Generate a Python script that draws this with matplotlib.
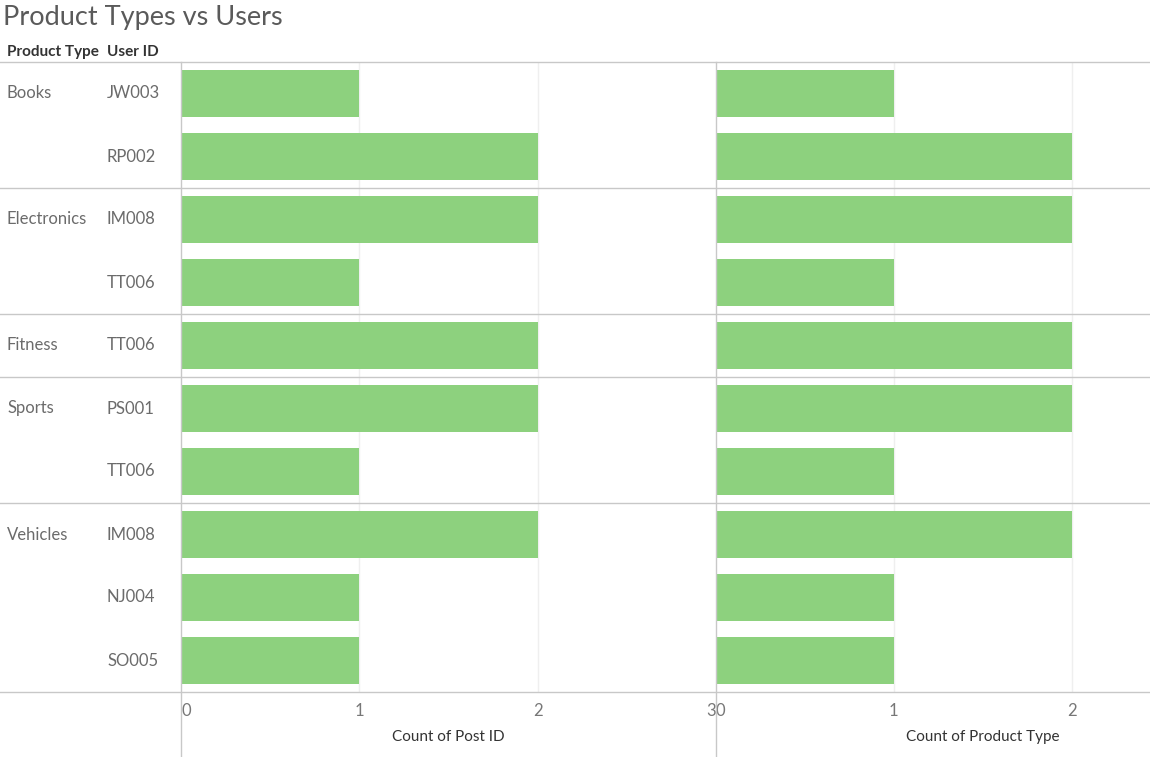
import matplotlib
matplotlib.use('Agg')
import matplotlib.pyplot as plt
import matplotlib.transforms as mtrans

# data
product_types = ['Books', 'Electronics', 'Fitness', 'Sports', 'Vehicles']
user_ids = [['JW003', 'RP002'], ['IM008', 'TT006'], ['TT006'],
            ['PS001', 'TT006'], ['IM008', 'NJ004', 'SO005']]
count_post_id = [1, 2, 2, 1, 2, 2, 1, 2, 1, 1]
count_product_type = [1, 2, 2, 1, 2, 2, 1, 2, 1, 1]
post_ticks = [0, 1, 2, 3]
type_ticks = [0, 1, 2]

plt.rcParams['font.family'] = ['Lato', 'DejaVu Sans']

W, H = 1150, 757
fig = plt.figure(figsize=(W / 100, H / 100), dpi=100)

def px_axes(x0, y0, x1, y1):
    return fig.add_axes([x0 / W, 1 - y1 / H, (x1 - x0) / W, (y1 - y0) / H])

top, bottom = 62, 692
n_rows = len(count_post_id)
bar_col = '#8DD17E'
txt_col = '#6b6b6b'
line_col = '#c8c8c8'

ax1 = px_axes(181, top, 716, bottom)
ax2 = px_axes(716, top, 1150, bottom)
lab = px_axes(0, top, 181, bottom)

lab.set_xlim(0, 181)
lab.set_ylim(n_rows, 0)
lab.axis('off')

# row labels
row = 0
bounds = [0]
for g, users in zip(product_types, user_ids):
    lab.text(7, row + 0.5, g, ha='left', va='center', fontsize=12, color=txt_col)
    for u in users:
        lab.text(107, row + 0.5, u, ha='left', va='center', fontsize=12, color=txt_col)
        row += 1
    bounds.append(row)

# separators across whole width
tr = mtrans.blended_transform_factory(fig.transFigure, lab.transData)
for b in bounds:
    lab.plot([0, 1], [b, b], transform=tr, color=line_col, lw=1, clip_on=False)

ypos = list(range(n_rows))
for ax, vals, ticks, xmax in [(ax1, count_post_id, post_ticks, 3.0),
                               (ax2, count_product_type, type_ticks, 2.44)]:
    ax.set_facecolor('none')
    ax.barh([y + 0.5 for y in ypos], vals, height=0.75, color=bar_col, zorder=2)
    ax.set_ylim(n_rows, 0)
    ax.set_xlim(0, xmax)
    ax.set_yticks([])
    for s in ax.spines.values():
        s.set_visible(False)
    for t in ticks[1:]:
        if t < xmax:
            ax.axvline(t, color='#efefef', lw=1, zorder=1)
    ax.set_xticks(ticks)
    ax.set_xticklabels([str(t) for t in ticks], fontsize=12, color='#777777')
    ax.tick_params(axis='x', length=0, pad=8)
    tv = mtrans.blended_transform_factory(ax.transData, fig.transFigure)
    ax.plot([0, 0], [0, 1 - top / H], transform=tv, color=line_col, lw=1, clip_on=False, zorder=3)

# tableau-like tick alignment
lbls = ax1.get_xticklabels()
lbls[0].set_ha('left')
lbls[0].set_x(0.03)
lbls[-1].set_ha('right')
lbls[-1].set_x(2.985)
lbls2 = ax2.get_xticklabels()
lbls2[0].set_ha('left')
lbls2[0].set_x(0.03)

ax1.set_xlabel('Count of Post ID', fontsize=11, color='#333333')
ax2.set_xlabel('Count of Product Type', fontsize=11, color='#333333')
ax1.xaxis.set_label_coords(0.5, -0.072)
ax2.xaxis.set_label_coords(0.615, -0.072)
ax1.xaxis.label.set_va('center')
ax2.xaxis.label.set_va('center')

# header and title
fig.text(7 / W, 1 - 52 / H, 'Product Type', fontsize=11, fontweight='bold', color='#333333', va='center')
fig.text(107 / W, 1 - 52 / H, 'User ID', fontsize=11, fontweight='bold', color='#333333', va='center')
fig.text(3 / W, 1 - 17 / H, 'Product Types vs Users', fontsize=19.5, fontweight='normal',
         color='#5a5a5a', va='center')

fig.savefig('out.png', dpi=100)
